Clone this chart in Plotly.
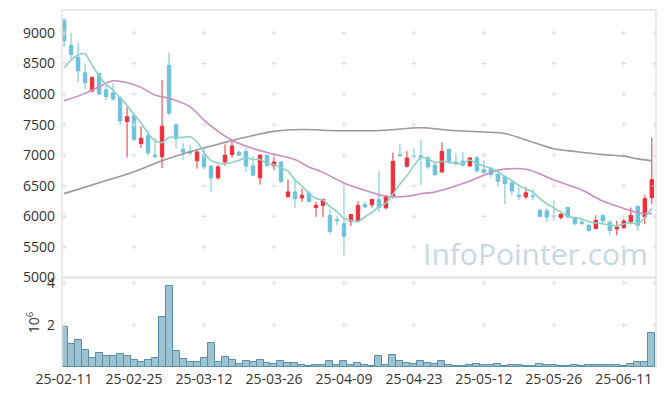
import plotly.graph_objects as go

# ---------------- data ----------------
tick_labels = ["25-02-11", "25-02-25", "25-03-12", "25-03-26", "25-04-09",
               "25-04-23", "25-05-12", "25-05-26", "25-06-11"]
tick_index = [0, 10, 20, 30, 40, 50, 60, 70, 80]

opens = [9210, 8800, 8600, 8350, 8050, 8340, 8070, 8020, 7940, 7550,
         7650, 7190, 7320, 7000, 6975, 8470, 7500, 7100, 7065, 6910,
         7010, 6825, 6630, 6890, 7010, 7050, 7060, 6825, 6630, 7000,
         6830, 6890, 6320, 6400, 6300, 6380, 6145, 6180, 6015, 5945,
         5880, 5920, 5935, 6195, 6190, 6275, 6140, 6330, 7010, 6820,
         6995, 6990, 6960, 6835, 6727, 7100, 6890, 6905, 6825, 6960,
         6765, 6780, 6690, 6645, 6545, 6345, 6320, 6335, 6100, 6090,
         6005, 5980, 6145, 5980, 5905, 5855, 5800, 6015, 5905, 5795,
         5815, 5910, 6165, 5990, 6305]
highs = [9240, 9000, 8840, 8500, 8290, 8350, 8140, 8180, 7970, 7790,
         7690, 7470, 7410, 7280, 8230, 8680, 7500, 7200, 7180, 7080,
         7110, 6830, 6840, 7180, 7260, 7080, 7120, 6985, 7010, 7010,
         6985, 6890, 6600, 6600, 6455, 6420, 6235, 6280, 6110, 6005,
         6500, 6030, 6245, 6245, 6290, 6745, 6345, 7045, 7180, 7065,
         7110, 7245, 6990, 6870, 7210, 7100, 7030, 7055, 6960, 6990,
         6920, 6810, 6765, 6670, 6590, 6480, 6480, 6455, 6120, 6130,
         6265, 6050, 6145, 6000, 5960, 5880, 6020, 6030, 5935, 5925,
         5960, 6145, 6165, 6345, 7290]
lows = [8770, 8560, 8200, 8080, 8030, 7990, 7900, 7900, 7500, 6960,
        7230, 7120, 7000, 6950, 6790, 7650, 7110, 6920, 7000, 6780,
        6770, 6400, 6600, 6830, 6960, 6990, 6730, 6660, 6520, 6820,
        6755, 6545, 6320, 6145, 6235, 6230, 5990, 5990, 5715, 5855,
        5360, 5840, 5920, 6140, 6140, 6070, 6115, 6290, 6970, 6800,
        6945, 6510, 6780, 6660, 6715, 6870, 6835, 6810, 6810, 6715,
        6690, 6640, 6480, 6195, 6345, 6265, 6280, 6265, 5985, 5910,
        5935, 5950, 5965, 5855, 5855, 5750, 5790, 5880, 5690, 5690,
        5800, 5880, 5760, 5870, 6200]
closes = [8870, 8650, 8380, 8190, 8270, 8000, 7960, 7920, 7560, 7630,
          7260, 7280, 7040, 6980, 7475, 7690, 7270, 7050, 7035, 7055,
          6810, 6630, 6810, 7000, 7150, 7000, 6825, 6675, 7000, 6830,
          6890, 6575, 6400, 6290, 6345, 6245, 6180, 6280, 5755, 5930,
          5675, 6030, 6180, 6155, 6275, 6145, 6330, 6900, 6995, 6955,
          6985, 6965, 6810, 6685, 7065, 6890, 6865, 6840, 6955, 6745,
          6720, 6685, 6575, 6535, 6415, 6330, 6385, 6325, 6000, 5990,
          5995, 6035, 5990, 5880, 5885, 5770, 5935, 5925, 5770, 5825,
          5925, 6015, 5855, 6290, 6600]
# volume in millions of shares
volumes = [1.90, 1.08, 1.28, 0.80, 0.41, 0.65, 0.51, 0.51, 0.61, 0.51,
           0.32, 0.22, 0.32, 0.41, 2.38, 3.86, 0.75, 0.37, 0.22, 0.22,
           0.41, 1.13, 0.22, 0.46, 0.32, 0.13, 0.27, 0.22, 0.32, 0.18,
           0.13, 0.27, 0.18, 0.18, 0.08, 0.03, 0.08, 0.08, 0.27, 0.08,
           0.27, 0.08, 0.18, 0.08, 0.03, 0.51, 0.08, 0.56, 0.27, 0.18,
           0.13, 0.30, 0.18, 0.13, 0.30, 0.11, 0.05, 0.05, 0.08, 0.13,
           0.08, 0.08, 0.13, 0.05, 0.08, 0.08, 0.05, 0.05, 0.13, 0.08,
           0.08, 0.03, 0.03, 0.08, 0.05, 0.08, 0.08, 0.08, 0.08, 0.08,
           0.05, 0.13, 0.22, 0.22, 1.61]
ma5 = [8432, 8557, 8640, 8660, 8472, 8298, 8160, 8068, 7942, 7814,
       7666, 7530, 7354, 7238, 7207, 7293, 7291, 7293, 7304, 7220,
       7044, 6916, 6868, 6861, 6880, 6918, 6957, 6930, 6930, 6866,
       6844, 6794, 6739, 6597, 6500, 6371, 6292, 6268, 6161, 6078,
       5964, 5934, 5914, 5994, 6063, 6157, 6217, 6361, 6529, 6665,
       6833, 6960, 6942, 6880, 6902, 6883, 6863, 6869, 6923, 6859,
       6825, 6789, 6736, 6652, 6586, 6508, 6448, 6398, 6291, 6206,
       6139, 6069, 6002, 5978, 5957, 5912, 5892, 5879, 5857, 5845,
       5876, 5892, 5878, 5982, 6137]
ma20_idx = [0, 3, 5, 7, 9, 11, 13, 15, 18, 20, 22, 24, 27, 30, 33, 35, 37,
            40, 43, 46, 49, 51, 53, 57, 60, 62, 66, 70, 74, 77, 80, 82, 84]
ma20_val = [7890, 8012, 8120, 8218, 8186, 8110, 7984, 7930, 7792, 7574,
            7390, 7246, 7110, 7017, 6930, 6809, 6720, 6547, 6427, 6328,
            6328, 6370, 6399, 6536, 6672, 6754, 6770, 6595, 6430, 6250,
            6130, 6060, 6045]
ma60_idx = [0, 5, 10, 14, 19, 22, 25, 30, 34, 38, 42, 46, 51, 55, 60, 63,
            66, 70, 73, 77, 80, 82, 84]
ma60_val = [6372, 6550, 6730, 6910, 7090, 7180, 7270, 7390, 7420, 7405,
            7400, 7410, 7450, 7410, 7380, 7355, 7250, 7105, 7060, 7010,
            6985, 6940, 6910]

price_ticks = [5000, 5500, 6000, 6500, 7000, 7500, 8000, 8500, 9000]
vol_ticks = [2, 4]

# ---------------- style ----------------
UP = "#ee2f3b"
DOWN = "#6cc2dc"
FONT = "Open Sans"
x_idx = list(range(len(closes)))

fig = go.Figure()

# grid crosses (at tick intersections)
cross_x = tick_index + [84.45]
gx, gy, vx, vy = [], [], [], []
for xv in cross_x:
    for yv in price_ticks[1:]:
        gx.append(xv); gy.append(yv)
    for yv in vol_ticks:
        vx.append(xv); vy.append(yv)
cross_marker = dict(symbol="cross-thin", size=4, color="#dedede",
                    line=dict(color="#dedede", width=1))
fig.add_trace(go.Scatter(x=gx, y=gy, mode="markers", marker=cross_marker,
                         hoverinfo="skip", showlegend=False, xaxis="x", yaxis="y"))
fig.add_trace(go.Scatter(x=vx, y=vy, mode="markers", marker=cross_marker,
                         hoverinfo="skip", showlegend=False, xaxis="x2", yaxis="y2"))

# moving averages
fig.add_trace(go.Scatter(x=ma60_idx, y=ma60_val, mode="lines",
                         line=dict(color="#9a9a9a", width=1.6, shape="spline"),
                         showlegend=False, xaxis="x", yaxis="y"))
fig.add_trace(go.Scatter(x=ma20_idx, y=ma20_val, mode="lines",
                         line=dict(color="#cc8cc4", width=1.6, shape="spline"),
                         showlegend=False, xaxis="x", yaxis="y"))
fig.add_trace(go.Scatter(x=x_idx, y=ma5, mode="lines",
                         line=dict(color="#8ed0c3", width=1.6, shape="spline", smoothing=0.6),
                         showlegend=False, xaxis="x", yaxis="y"))

# candles
fig.add_trace(go.Candlestick(
    x=x_idx, open=opens, high=highs, low=lows, close=closes,
    increasing=dict(line=dict(color=UP, width=1), fillcolor=UP),
    decreasing=dict(line=dict(color=DOWN, width=1), fillcolor=DOWN),
    whiskerwidth=0, showlegend=False, xaxis="x", yaxis="y"))

# volume
fig.add_trace(go.Bar(x=x_idx, y=volumes,
                     marker=dict(color="rgba(140,183,202,0.85)",
                                 line=dict(color="#5a8fa9", width=1)),
                     showlegend=False, xaxis="x2", yaxis="y2"))

# The page body has an 8px margin, so the figure is sized/offset to compensate.
xr = [-0.3, 84.6]
axis_font = dict(family=FONT, size=14, color="#333333")
fig.update_layout(
    width=657, height=388,
    margin=dict(l=54, r=9, t=2, b=29, autoexpand=False),
    paper_bgcolor="white", plot_bgcolor="white",
    font=dict(family=FONT, color="#333333"),
    boxgap=0.3,
    xaxis=dict(domain=[0, 1], range=xr, showgrid=False, zeroline=False,
               showticklabels=False, rangeslider=dict(visible=False),
               anchor="y", matches="x2", automargin=False),
    yaxis=dict(domain=[0.2507, 1], range=[5000, 9376], tickvals=price_ticks,
               showgrid=False, zeroline=False, tickfont=axis_font,
               ticks="", ticklabelstandoff=6, anchor="x", automargin=False),
    xaxis2=dict(domain=[0, 1], range=xr, showgrid=False, zeroline=False,
                tickvals=tick_index, ticktext=tick_labels, tickfont=axis_font,
                ticks="", ticklabelstandoff=2, anchor="y2", automargin=False),
    yaxis2=dict(domain=[0, 0.2493], range=[0, 4.24], tickvals=vol_ticks,
                showgrid=False, zeroline=False, tickfont=axis_font,
                ticks="", ticklabelstandoff=6, anchor="x2", automargin=False,
                title=dict(text="10<sup>6</sup>", font=axis_font, standoff=4)),
    bargap=0.0,
)

# frame and panel divider
frame = "#e4e4e4"
fig.add_shape(type="line", xref="paper", yref="paper", x0=0, x1=1, y0=1, y1=1,
              line=dict(color=frame, width=1.5))
fig.add_shape(type="line", xref="paper", yref="paper", x0=0, x1=0, y0=0, y1=1,
              line=dict(color=frame, width=1.5))
fig.add_shape(type="line", xref="paper", yref="paper", x0=1, x1=1, y0=0, y1=1,
              line=dict(color=frame, width=1.5))
fig.add_shape(type="line", xref="paper", yref="paper", x0=0, x1=1, y0=0.2507, y1=0.2507,
              line=dict(color="#e6e6e6", width=2.5))

# watermark
fig.add_annotation(text="InfoPointer.com", xref="paper", yref="paper",
                   x=0.99, y=0.318, xanchor="right", yanchor="middle",
                   showarrow=False,
                   font=dict(family=FONT, size=30, color="#c6d9e3"))

fig.write_html("out.html")
